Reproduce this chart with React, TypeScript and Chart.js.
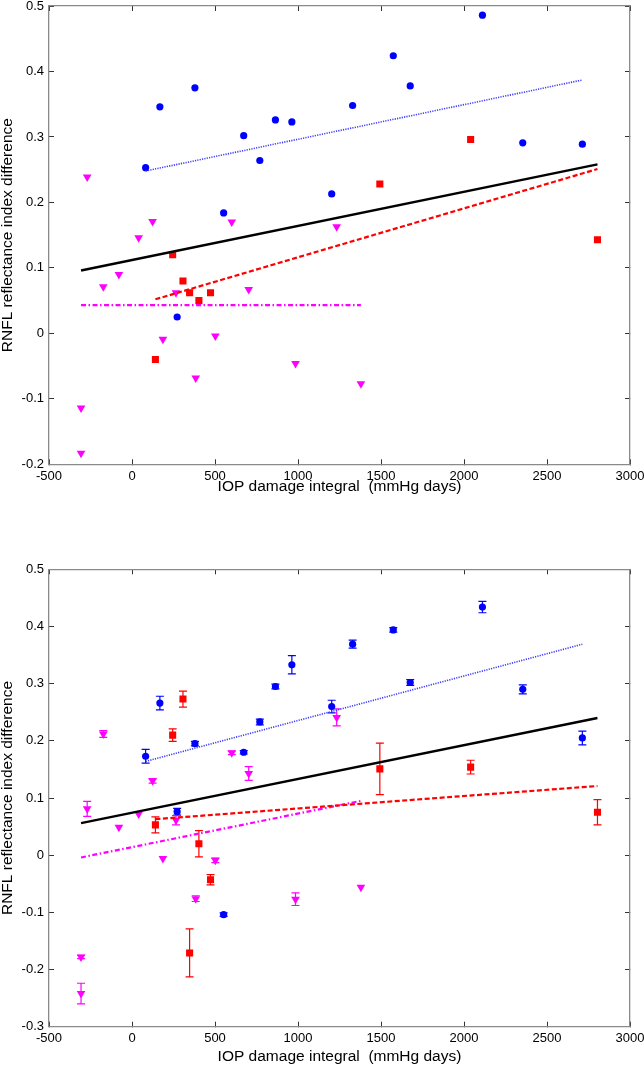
import React, { useEffect, useRef } from "react";
import { Chart, registerables } from "chart.js";
Chart.register(...registerables);

const FONT = "'Liberation Sans', Arial, Helvetica, sans-serif";

// Shared x-axis
const xTickStep = 500;
const xMin = -500;
const xMax = 3000;
const xTitle = "IOP damage integral  (mmHg days)";
const yTitle = "RNFL reflectance index difference";

// Blue circles
const blueX = [82, 168, 272, 379, 552, 673, 770, 864, 963, 1203, 1329, 1574, 1676, 2111, 2354, 2713];
const blueTopY = [0.253, 0.346, 0.025, 0.375, 0.184, 0.302, 0.264, 0.326, 0.323, 0.213, 0.348, 0.424, 0.378, 0.486, 0.291, 0.289];
const blueBotY = [0.173, 0.266, 0.076, 0.195, -0.104, 0.18, 0.233, 0.295, 0.333, 0.26, 0.369, 0.394, 0.302, 0.434, 0.29, 0.205];
const blueBotErr = [0.012, 0.012, 0.006, 0.004, 0.003, 0.003, 0.005, 0.004, 0.016, 0.011, 0.007, 0.004, 0.005, 0.01, 0.008, 0.012];

// Red squares
const redX = [141, 245, 307, 347, 403, 473, 1493, 2040, 2804];
const redTopY = [-0.04, 0.12, 0.08, 0.062, 0.05, 0.062, 0.228, 0.296, 0.143];
const redBotY = [0.053, 0.21, 0.273, -0.171, 0.02, -0.043, 0.151, 0.154, 0.075];
const redBotErr = [0.014, 0.011, 0.014, 0.042, 0.023, 0.009, 0.045, 0.012, 0.022];

// Magenta triangles
const magX = [-307, -307, -270, -173, -79, 40, 124, 186, 265, 384, 502, 601, 703, 985, 1233, 1379];
const magTopY = [-0.114, -0.183, 0.239, 0.071, 0.09, 0.146, 0.171, -0.009, 0.062, -0.068, -0.004, 0.17, 0.067, -0.046, 0.163, -0.077];
const magBotY = [-0.178, -0.242, 0.081, 0.212, 0.049, 0.072, 0.13, -0.006, 0.061, -0.076, -0.009, 0.179, 0.143, -0.077, 0.241, -0.056];
const magBotErr = [0.003, 0.018, 0.013, 0.006, 0, 0, 0.004, 0, 0.008, 0.005, 0.004, 0.003, 0.012, 0.011, 0.015, 0];

// Fit lines (endpoints)
const allFitX = [-307, 2804];
const blueFitX = [82, 2713];
const redFitX = [141, 2804];
const magFitX = [-307, 1379];
const topAllFitY = [0.096, 0.258];
const topBlueFitY = [0.248, 0.387];
const topRedFitY = [0.052, 0.251];
const topMagFitY = [0.043, 0.043];
const botAllFitY = [0.056, 0.24];
const botBlueFitY = [0.164, 0.369];
const botRedFitY = [0.063, 0.121];
const botMagFitY = [-0.004, 0.095];

const zip = (xs: number[], ys: number[]) => xs.map((x, i) => ({ x, y: ys[i] }));

const errorBarPlugin = {
  id: "errorBars",
  beforeDatasetsDraw(chart: any) {
    const ctx = chart.ctx;
    const yScale = chart.scales.y;
    chart.data.datasets.forEach((ds: any, i: number) => {
      if (!ds.errors) return;
      const meta = chart.getDatasetMeta(i);
      ctx.save();
      ctx.strokeStyle = ds.backgroundColor;
      ctx.lineWidth = 1.2;
      meta.data.forEach((pt: any, j: number) => {
        const e = ds.errors[j];
        if (!e) return;
        const v = ds.data[j].y;
        const x = pt.x;
        const y1 = yScale.getPixelForValue(v - e);
        const y2 = yScale.getPixelForValue(v + e);
        ctx.beginPath();
        ctx.moveTo(x, y1);
        ctx.lineTo(x, y2);
        ctx.moveTo(x - 4, y1);
        ctx.lineTo(x + 4, y1);
        ctx.moveTo(x - 4, y2);
        ctx.lineTo(x + 4, y2);
        ctx.stroke();
      });
      ctx.restore();
    });
  },
};

type PanelProps = {
  top: number;
  height: number;
  padTop: number;
  padBottom: number;
  xAxisH: number;
  yMin: number;
  yMax: number;
  blueY: number[];
  redY: number[];
  magY: number[];
  blueErr?: number[];
  redErr?: number[];
  magErr?: number[];
  fitAll: number[];
  fitBlue: number[];
  fitRed: number[];
  fitMag: number[];
};

function Panel(p: PanelProps) {
  const ref = useRef<HTMLCanvasElement>(null);
  useEffect(() => {
    if (!ref.current) return;
    const grid = {
      drawOnChartArea: false,
      drawTicks: true,
      tickLength: -5,
      tickColor: "#333333",
      tickWidth: 1,
    };
    const border = { display: true, color: "#8a8a8a", width: 1.3 };
    const tickFont = { family: FONT, size: 13 };
    const line = (xs: number[], ys: number[], color: string, width: number, dash: number[]) => ({
      type: "scatter",
      data: zip(xs, ys),
      showLine: true,
      borderColor: color,
      backgroundColor: color,
      borderWidth: width,
      borderDash: dash,
      pointRadius: 0,
      fill: false,
    });
    const pts = (xs: number[], ys: number[], color: string, style: string, r: number, rot: number, errs?: number[]) => ({
      type: "scatter",
      data: zip(xs, ys),
      backgroundColor: color,
      borderColor: color,
      borderWidth: 0,
      pointStyle: style,
      pointRadius: r,
      pointRotation: rot,
      errors: errs,
    });
    const chart = new Chart(ref.current, {
      type: "scatter",
      data: {
        datasets: [
          line(allFitX, p.fitAll, "#000000", 2.4, []),
          line(blueFitX, p.fitBlue, "#3d3dff", 1.6, [1.2, 1.2]),
          line(redFitX, p.fitRed, "#ff0000", 2.2, [5, 2.5]),
          line(magFitX, p.fitMag, "#ff00ff", 2.2, [5, 2.5, 1.5, 2.5]),
          pts(blueX, p.blueY, "#0000ff", "circle", 3.6, 0, p.blueErr),
          pts(redX, p.redY, "#ff0000", "rect", 5, 0, p.redErr),
          pts(magX, p.magY, "#ff00ff", "triangle", 5, 180, p.magErr),
        ] as any,
      },
      options: {
        animation: false,
        responsive: false,
        maintainAspectRatio: false,
        layout: { padding: { left: 0, right: 14, top: p.padTop, bottom: p.padBottom } },
        plugins: { legend: { display: false }, tooltip: { enabled: false } },
        scales: {
          x: {
            type: "linear",
            position: "bottom",
            min: xMin,
            max: xMax,
            grid,
            border,
            ticks: {
              stepSize: xTickStep,
              padding: 9.2,
              color: "#000",
              font: tickFont,
              maxRotation: 0,
              autoSkip: false,
              callback: (v: any) => String(v),
            },
            title: {
              display: true,
              text: xTitle,
              color: "#000",
              font: { family: FONT, size: 15.5, lineHeight: 1.2 },
              padding: 0,
            },
            afterFit: (s: any) => {
              s.height = p.xAxisH;
              s.paddingLeft = 0;
              s.paddingRight = 0;
            },
          },
          x2: {
            type: "linear",
            position: "top",
            min: xMin,
            max: xMax,
            grid,
            border,
            ticks: { stepSize: xTickStep, display: false },
            afterFit: (s: any) => {
              s.height = 0;
              s.paddingLeft = 0;
              s.paddingRight = 0;
            },
          },
          y: {
            type: "linear",
            position: "left",
            min: p.yMin,
            max: p.yMax,
            grid,
            border,
            ticks: {
              stepSize: 0.1,
              padding: 10,
              color: "#000",
              font: tickFont,
              callback: (v: any) => String(Number(Number(v).toFixed(1))),
            },
            title: {
              display: true,
              text: yTitle,
              color: "#000",
              font: { family: FONT, size: 15.5, lineHeight: 1 },
              padding: 0,
            },
            afterFit: (s: any) => {
              s.width = 49;
              s.paddingTop = 0;
              s.paddingBottom = 0;
            },
          },
          y2: {
            type: "linear",
            position: "right",
            min: p.yMin,
            max: p.yMax,
            grid,
            border,
            ticks: { stepSize: 0.1, display: false },
            afterFit: (s: any) => {
              s.width = 0;
              s.paddingTop = 0;
              s.paddingBottom = 0;
            },
          },
        },
      } as any,
      plugins: [errorBarPlugin],
    });
    return () => chart.destroy();
  }, []);
  return (
    <canvas
      ref={ref}
      width={644}
      height={p.height}
      style={{ position: "absolute", left: 0, top: p.top, width: 644, height: p.height, display: "block" }}
    />
  );
}

export default function App() {
  return (
    <div style={{ position: "absolute", left: 0, top: 0, width: 644, height: 1066, background: "#fff", overflow: "hidden" }}>
      <Panel
        top={0}
        height={530}
        padTop={6}
        padBottom={33.7}
        xAxisH={32}
        yMin={-0.2}
        yMax={0.5}
        blueY={blueTopY}
        redY={redTopY}
        magY={magTopY}
        fitAll={topAllFitY}
        fitBlue={topBlueFitY}
        fitRed={topRedFitY}
        fitMag={topMagFitY}
      />
      <Panel
        top={530}
        height={536}
        padTop={39.3}
        padBottom={0}
        xAxisH={39.3}
        yMin={-0.3}
        yMax={0.5}
        blueY={blueBotY}
        redY={redBotY}
        magY={magBotY}
        blueErr={blueBotErr}
        redErr={redBotErr}
        magErr={magBotErr}
        fitAll={botAllFitY}
        fitBlue={botBlueFitY}
        fitRed={botRedFitY}
        fitMag={botMagFitY}
      />
    </div>
  );
}
